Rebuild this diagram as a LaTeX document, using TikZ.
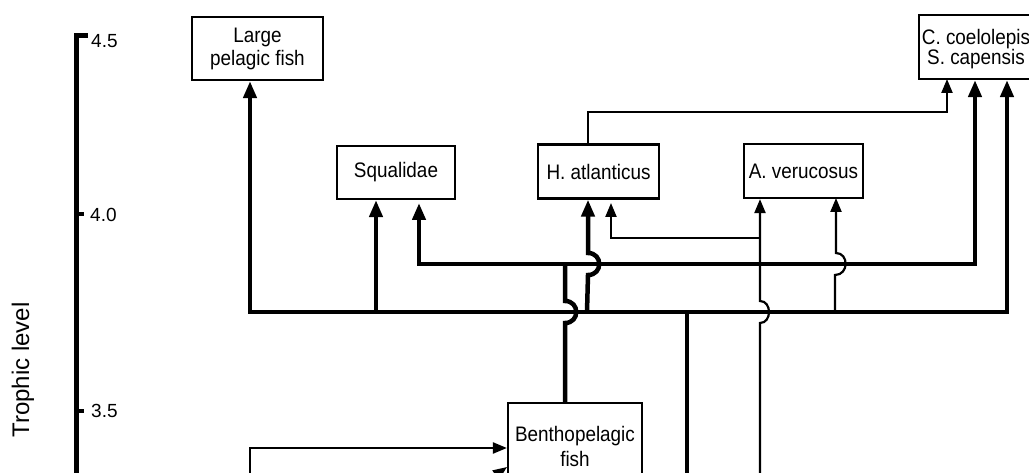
\documentclass[tikz,border=0pt]{standalone}
\usepackage{fontspec}
\setmainfont{Liberation Sans}
\newfontfamily\boxfont{Liberation Sans}[FakeStretch=0.9]
\usetikzlibrary{arrows.meta}
\begin{document}
\begin{tikzpicture}[x=1pt,y=-1pt,
  box/.style={draw, line width=2.2pt, inner sep=0pt, align=center, font=\boxfont\fontsize{21}{23}\selectfont},
  boxtext/.style={anchor=base, inner sep=0pt, font=\boxfont\fontsize{21}{23}\selectfont},
  thk/.style={line width=4.5pt},
  thn/.style={line width=2.2pt},
  tipk/.style={-{Triangle[length=17pt,width=13pt]}},
  tipkk/.style={{Triangle[length=17pt,width=13pt]}-{Triangle[length=17pt,width=13pt]}},
  tipn/.style={-{Triangle[length=14pt,width=11pt]}},
  ticklab/.style={anchor=west, inner sep=0pt, font=\fontsize{19}{21}\selectfont},
]
\useasboundingbox (0,0) rectangle (1029,473);
\clip (0,0) rectangle (1029,473);

% axis
\coordinate (axT) at (76,35.5);
\coordinate (axB) at (76,490);
\draw[line width=5pt] (87.5,35.5) -- (axT) -- (axB);
\draw[line width=4pt] (76,214) -- (84,214);
\draw[line width=4pt] (76,411) -- (84,411);
\node[ticklab] (l45) at (91,41) {4.5};
\node[ticklab] (l40) at (90,214.5) {4.0};
\node[ticklab] (l35) at (91,411) {3.5};
\node[rotate=90, inner sep=0pt, font=\fontsize{24}{26}\selectfont] (tl) at (23,370) {Trophic level};

% boxes
\node[box, minimum width=131pt, minimum height=63pt] (lpf) at (257.5,48.5) {Large\\pelagic fish};
\node[box, minimum width=118pt, minimum height=53pt] (sq) at (396,172.5) {Squalidae};
\node[box, minimum width=121pt, minimum height=54pt] (ha) at (598.5,171.5) {H. atlanticus};
\node[box, minimum width=119pt, minimum height=54pt] (av) at (803.5,171) {A. verucosus};
\node[box, minimum width=114pt, minimum height=64pt] (cc) at (976,47) {};
\node[boxtext] (cc1) at (976,45) {C. coelolepis};
\node[boxtext] (cc2) at (976,65) {S. capensis};
\node[box, minimum width=134pt, minimum height=87pt] (bf) at (575,446.5) {};
\node[boxtext] (bf1) at (575,441.7) {Benthopelagic};
\node[boxtext] (bf2) at (575,466.7) {fish};

% junction coordinates
\coordinate (h1L) at (250,312);
\coordinate (h1R) at (1007,312);
\coordinate (h2L) at (419,264);
\coordinate (h2R) at (975,264);
\coordinate (s1) at (376,312);
\coordinate (sqin) at (419,203);
\coordinate (bfout) at (565,403);
\coordinate (src) at (687,490);
\coordinate (thinsrc) at (760,490);
\coordinate (ha1) at (587,312);
\coordinate (av2) at (835,312);
\coordinate (br) at (760,238);
\coordinate (hain) at (611,203);
\coordinate (haout) at (588,144.5);
\coordinate (bl) at (250,490);
\coordinate (bl2) at (250,448);
\coordinate (bl3) at (440,515);
\coordinate (bfin2) at (507,467);

% thick links
\draw[thk,tipkk] (h1L |- lpf.south) -- (h1L) -- (h1R) -- (h1R |- cc.south);
\draw[thk,tipkk] (sqin) -- (h2L) -- (h2R) -- (h2R |- cc.south);
\draw[thk,tipk] (s1) -- (s1 |- sq.south);
\draw[thk] (bfout) -- (565,323) .. controls (580,323) and (580,301) .. (565,301) -- (565,264);
\draw[thk,tipk] (ha1) -- (588,275) .. controls (603,275) and (603,253) .. (588,253) -- (ha.south -| haout);
\draw[thk] (src) -- (src |- h1R);

% thin links
\draw[thn,tipn] (av2) -- (835,275) .. controls (849,275) and (849,253) .. (836,253) -- (836,198);
\draw[thn,tipn] (thinsrc) -- (760,323) .. controls (772,323) and (772,301) .. (760,301) -- (thinsrc |- av.south);
\draw[thn,tipn] (br) -- (br -| hain) -- (hain);
\draw[thn,tipn] (haout) -- (588,112) -- (947,112) -- (947,79);
\draw[thn,tipn] (bl) -- (bl2) -- (bl2 -| bf.west);
\draw[thn,tipn] (bl3) -- (bfin2);
\end{tikzpicture}
\end{document}
